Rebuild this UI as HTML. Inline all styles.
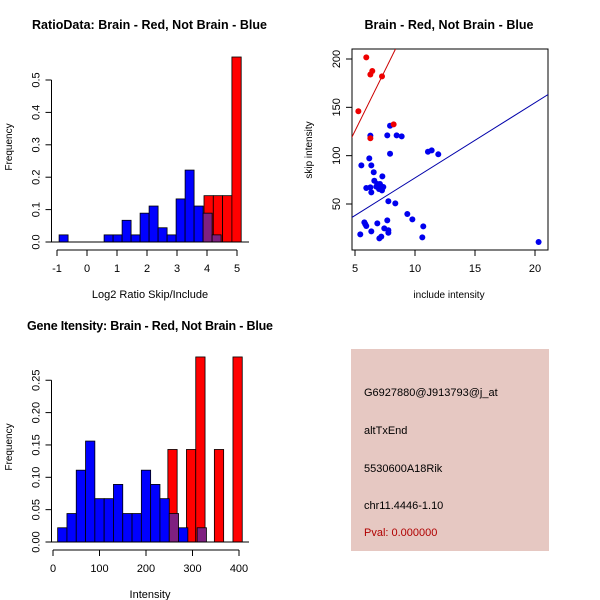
<!DOCTYPE html>
<html><head><meta charset="utf-8"><style>
body{margin:0;background:#fff}
svg{display:block;font-family:"Liberation Sans",sans-serif}
</style></head><body>
<svg id="s" width="600" height="600" viewBox="0 0 600 600" xmlns="http://www.w3.org/2000/svg">
<rect width="600" height="600" fill="#fff"/>
<text x="149.5" y="29" font-size="12.5" font-weight="bold" text-anchor="middle" textLength="235">RatioData: Brain - Red, Not Brain - Blue</text>
<text x="449" y="29" font-size="12.5" font-weight="bold" text-anchor="middle" textLength="169">Brain - Red, Not Brain - Blue</text>
<text x="150" y="330" font-size="12.5" font-weight="bold" text-anchor="middle" textLength="246">Gene Itensity: Brain - Red, Not Brain - Blue</text>
<g id="p1"></g>
<g id="p2"></g>
<g id="p3"></g>
<g>
<rect x="351" y="349" width="198" height="202" fill="#e6c8c2"/>
<text x="364" y="396" font-size="11">G6927880@J913793@j_at</text>
<text x="364" y="434" font-size="11">altTxEnd</text>
<text x="364" y="472" font-size="11">5530600A18Rik</text>
<text x="364" y="509" font-size="11">chr11.4446-1.10</text>
<text x="364" y="536" font-size="11" fill="#b00000">Pval: 0.000000</text>
</g>
</svg>
<script>
// ---- Ratio histogram data ----
const ratioBlueStart = -0.93, ratioBlueWidth = 0.3;
const ratioBlue = [0.022,0,0,0,0,0.022,0.022,0.067,0.022,0.089,0.111,0.044,0.022,0.133,0.222,0.111,0.089,0.022];
const ratioRedStart = 3.9, ratioRedWidth = 0.31;
const ratioRed = [0.143,0.143,0.143,0.571];
const ratioXTicks = [-1,0,1,2,3,4,5];
const ratioYTicks = [0,0.1,0.2,0.3,0.4,0.5];
const ratioYLabels = ["0.0","0.1","0.2","0.3","0.4","0.5"];
// ---- Intensity histogram data ----
const intBlueStart = 10, intBlueWidth = 20;
const intBlue = [0.022,0.044,0.111,0.156,0.067,0.067,0.089,0.044,0.044,0.111,0.089,0.067,0.044,0.022,0,0.022];
const intRedStart = 247, intRedWidth = 20;
const intRed = [0.143,0,0.143,0.286,0,0.143,0,0.286];
const intXTicks = [0,100,200,300,400];
const intYTicks = [0,0.05,0.1,0.15,0.2,0.25];
const intYLabels = ["0.00","0.05","0.10","0.15","0.20","0.25"];
// ---- Scatter data ----
const redX = [5.94,5.28,6.28,6.44,7.25,8.22,6.28];
const redY = [201.7,145.9,184,187.6,182,132.4,118];
const blueX = [6.28,7.92,7.69,8.47,8.89,7.92,11.08,11.39,11.94,6.19,5.53,6.36,6.56,7.28,6.61,6.86,7.08,5.94,6.28,6.78,7.36,7.25,7.0,6.36,7.78,8.36,9.36,9.78,10.69,5.78,5.86,5.94,6.86,7.69,7.44,7.78,7.78,6.36,5.44,7.19,7.03,10.61,20.3];
const blueY = [120.7,131,121,121,120,102,104,105.5,101.4,97.2,90,90,82.8,78.6,74.1,70.7,70.7,66.6,67.2,68,67.6,64.1,65.5,62,52.8,50.7,39.7,34.1,26.9,31,29,27.2,30,33.1,24.8,22.8,20.3,21.7,18.6,16.2,14.5,15.5,10.7];
const redLine = [0.1, 25.1];   // intercept, slope
const blueLine = [-0.8, 7.78];
const scXTicks = [5,10,15,20];
const scYTicks = [50,100,150,200];

const NS="http://www.w3.org/2000/svg";
function mk(parent,tag,attrs){const e=document.createElementNS(NS,tag);for(const k in attrs)e.setAttribute(k,attrs[k]);parent.appendChild(e);return e;}

function hist(g,o){
  const sx=v=>o.x0+(v-o.v0)*o.kx, sy=v=>o.y0-v*o.ky;
  const redRanges=[];
  o.red.forEach((v,i)=>{ if(v<=0)return;
    const a=o.rs+i*o.rw,b=a+o.rw; redRanges.push([a,b]);
    const r=mk(g,'rect',{x:sx(a),y:sy(v),width:sx(b)-sx(a),height:sy(0)-sy(v),fill:'#ff0000',stroke:'#000','stroke-width':0.8});
    
    
  });
  o.blue.forEach((v,i)=>{ if(v<=0)return;
    const a=o.bs+i*o.bw,b=a+o.bw,m=(a+b)/2;
    const ov=redRanges.some(r=>m>r[0]&&m<r[1]);
    const r=mk(g,'rect',{x:sx(a),y:sy(v),width:sx(b)-sx(a),height:sy(0)-sy(v),fill:ov?'#7f2080':'#0000ff',stroke:'#000','stroke-width':0.8});
    
    
  });
  const ax=mk(g,'line',{x1:o.bx0,x2:o.bx1,y1:o.y0,y2:o.y0,stroke:'#000'});
  
  
  const xa=mk(g,'g',{});
  
  
  const t=o.xt;
  mk(xa,'line',{x1:sx(t[0]),x2:sx(t[t.length-1]),y1:o.xaY,y2:o.xaY,stroke:'#000'});
  t.forEach(v=>{mk(xa,'line',{x1:sx(v),x2:sx(v),y1:o.xaY,y2:o.xaY+6,stroke:'#000'});
    const tx=mk(xa,'text',{x:sx(v),y:o.xaY+22,'font-size':11,'text-anchor':'middle'});tx.textContent=v;});
  const xl=mk(g,'text',{x:o.xlX,y:o.xaY+48,'font-size':11,'text-anchor':'middle'});xl.textContent=o.xlab;
  
  
  const ya=mk(g,'g',{});
  
  
  const yt=o.yt;
  mk(ya,'line',{x1:o.yaX,x2:o.yaX,y1:sy(yt[0]),y2:sy(yt[yt.length-1]),stroke:'#000'});
  yt.forEach((v,i)=>{mk(ya,'line',{x1:o.yaX,x2:o.yaX-6,y1:sy(v),y2:sy(v),stroke:'#000'});
    const tx=mk(ya,'text',{x:o.yaX-12,y:sy(v),'font-size':11,'text-anchor':'middle',transform:`rotate(-90 ${o.yaX-12} ${sy(v)})`});tx.textContent=o.yl[i];});
  const yl=mk(g,'text',{x:12,y:o.ylY,'font-size':10,'text-anchor':'middle',transform:`rotate(-90 12 ${o.ylY})`});yl.textContent='Frequency';
  
  
}
hist(document.getElementById('p1'),{x0:87,v0:0,kx:30,y0:242,ky:324,blue:ratioBlue,bs:ratioBlueStart,bw:ratioBlueWidth,red:ratioRed,rs:ratioRedStart,rw:ratioRedWidth,bx0:51,bx1:249,xt:ratioXTicks,xaY:250,xlab:'Log2 Ratio Skip/Include',xlX:150,yt:ratioYTicks,yl:ratioYLabels,yaX:51.5,ylY:147});
hist(document.getElementById('p3'),{x0:53,v0:0,kx:0.465,y0:542,ky:647,blue:intBlue,bs:intBlueStart,bw:intBlueWidth,red:intRed,rs:intRedStart,rw:intRedWidth,bx0:51,bx1:249,xt:intXTicks,xaY:550,xlab:'Intensity',xlX:150,yt:intYTicks,yl:intYLabels,yaX:51.5,ylY:447});

(function(){
  const g=document.getElementById('p2');
  const L=352,R=548,T=49,B=250;
  const sx=v=>355+(v-5)*12, sy=v=>204-(v-50)*0.9667;
  mk(g,'defs',{}).innerHTML='<clipPath id="cp"><rect x="352" y="49" width="196" height="201"/></clipPath>';
  const box=mk(g,'rect',{x:L,y:T,width:R-L,height:B-T,fill:'none',stroke:'#000'});
  
  
  const cg=mk(g,'g',{'clip-path':'url(#cp)'});
  const lines=[[redLine,'#cc0000','red-fit-line'],[blueLine,'#0000aa','blue-fit-line']];
  lines.forEach(([c,col,nm])=>{const x1=4,x2=22;
    const l=mk(cg,'line',{x1:sx(x1),y1:sy(c[0]+c[1]*x1),x2:sx(x2),y2:sy(c[0]+c[1]*x2),stroke:col,'stroke-width':1});
    
    });
  blueX.forEach((x,i)=>{const c=mk(cg,'circle',{cx:sx(x),cy:sy(blueY[i]),r:3,fill:'#0000ee'});
    
    });
  redX.forEach((x,i)=>{const c=mk(cg,'circle',{cx:sx(x),cy:sy(redY[i]),r:3,fill:'#ee0000'});
    
    });
  const xa=mk(g,'g',{});
  
  
  scXTicks.forEach(v=>{mk(xa,'line',{x1:sx(v),x2:sx(v),y1:B,y2:B+6,stroke:'#000'});
    const t=mk(xa,'text',{x:sx(v),y:B+22,'font-size':11,'text-anchor':'middle'});t.textContent=v;});
  const xl=mk(g,'text',{x:449,y:298,'font-size':10,'text-anchor':'middle'});xl.textContent='include intensity';
  
  
  const ya=mk(g,'g',{});
  
  
  scYTicks.forEach(v=>{mk(ya,'line',{x1:L,x2:L-6,y1:sy(v),y2:sy(v),stroke:'#000'});
    const t=mk(ya,'text',{x:L-12,y:sy(v),'font-size':11,'text-anchor':'middle',transform:`rotate(-90 ${L-12} ${sy(v)})`});t.textContent=v;});
  const yl=mk(g,'text',{x:312,y:150,'font-size':10,'text-anchor':'middle',transform:'rotate(-90 312 150)'});yl.textContent='skip intensity';
  
  
})();
</script>
</body></html>
